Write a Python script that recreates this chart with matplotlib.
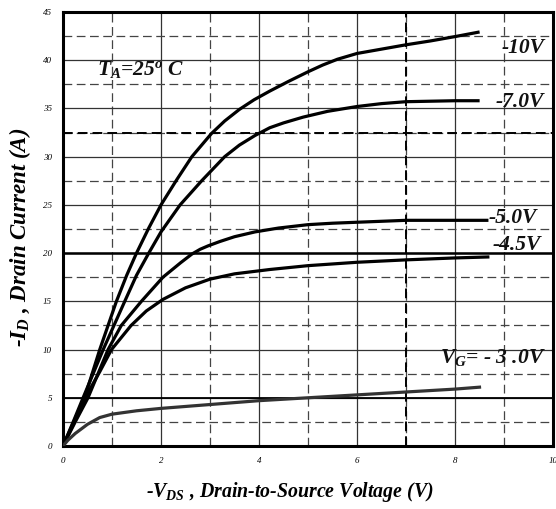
import matplotlib
matplotlib.use('Agg')
import matplotlib.pyplot as plt
from matplotlib.ticker import MultipleLocator

# 输出特性曲线数据 (-VDS, -ID)
x_10 = [0, 0.2, 0.44, 0.75, 1.09, 1.3, 1.5, 1.75, 2.0, 2.32, 2.63, 3.03, 3.3, 3.6, 3.9, 4.22,
        4.6, 5.0, 5.3, 5.6, 6.0, 6.5, 7.0, 7.5, 8.0, 8.47]
y_10 = [0, 2.3, 5, 10, 15, 17.7, 20, 22.6, 25, 27.6, 30, 32.4, 33.7, 34.9, 35.9, 36.8,
        37.8, 38.8, 39.5, 40.1, 40.7, 41.15, 41.6, 42.0, 42.45, 42.9]

x_7 = [0, 0.2, 0.41, 0.82, 1.26, 1.5, 1.75, 2.0, 2.39, 2.83, 3.3, 3.6, 3.92, 4.22, 4.5, 4.9,
       5.4, 6.0, 6.5, 7.0, 7.5, 8.0, 8.47]
y_7 = [0, 2.4, 5, 10, 15, 17.7, 20, 22.2, 25, 27.5, 30, 31.2, 32.2, 33.0, 33.5, 34.1,
       34.7, 35.2, 35.5, 35.7, 35.75, 35.8, 35.8]

x_5 = [0, 0.25, 0.51, 0.92, 1.19, 1.6, 2.04, 2.4, 2.63, 2.8, 2.96, 3.2, 3.5, 3.92, 4.4, 5.0,
       5.5, 6.0, 7.0, 8.0, 8.65]
y_5 = [0, 2.5, 5, 10, 12.5, 15, 17.5, 19.0, 19.9, 20.4, 20.75, 21.2, 21.7, 22.2, 22.6, 22.95,
       23.1, 23.2, 23.4, 23.4, 23.4]

x_45 = [0, 0.3, 0.55, 0.75, 0.99, 1.39, 1.7, 2.04, 2.5, 3.0, 3.5, 4.22, 5.0, 6.0, 7.0, 8.0, 8.67]
y_45 = [0, 3.2, 5.9, 7.7, 10, 12.5, 14.0, 15.2, 16.4, 17.3, 17.85, 18.3, 18.7, 19.05, 19.3, 19.5, 19.6]

x_3 = [0, 0.1, 0.25, 0.5, 0.75, 1.0, 1.5, 2.0, 3.0, 4.0, 5.0, 6.0, 7.0, 8.0, 8.5]
y_3 = [0, 0.6, 1.3, 2.25, 2.95, 3.3, 3.65, 3.9, 4.3, 4.7, 5.0, 5.3, 5.6, 5.9, 6.1]

curve_labels = ['-10V', '-7.0V', '-5.0V', '-4.5V', r'$V_G$= - 3 .0V']
label_pos = [(8.95, 41.3), (8.83, 35.7), (8.68, 23.6), (8.76, 20.8), (7.7, 9.2)]

plt.rcParams['font.family'] = ['Liberation Serif', 'DejaVu Serif']
plt.rcParams['mathtext.fontset'] = 'custom'
plt.rcParams['mathtext.it'] = 'Liberation Serif:italic:bold'
plt.rcParams['mathtext.rm'] = 'Liberation Serif:italic:bold'

fig = plt.figure(figsize=(5.56, 5.09), dpi=100)
ax = fig.add_axes([63/556, 63/509, 490/556, 434/509])

ax.set_xlim(0, 10)
ax.set_ylim(0, 45)
ax.xaxis.set_major_locator(MultipleLocator(2))
ax.xaxis.set_minor_locator(MultipleLocator(1))
ax.yaxis.set_major_locator(MultipleLocator(5))
ax.yaxis.set_minor_locator(MultipleLocator(2.5))

ax.grid(which='major', color='#333333', lw=0.9, ls='-')
ax.grid(which='minor', color='#444444', lw=0.9, ls=(0, (7, 3.6)))
ax.set_axisbelow(True)

# 加粗的几条参考线
ax.axhline(20, color='black', lw=1.8, zorder=1)
ax.axhline(5, color='black', lw=1.3, zorder=1)
ax.axhline(32.5, color='black', lw=1.4, ls=(0, (5, 2.6)), zorder=1)
ax.axvline(7, color='black', lw=1.4, ls=(0, (5, 2.6)), zorder=1)

ax.plot(x_10, y_10, color='black', lw=2.3, zorder=3, solid_joinstyle='round')
ax.plot(x_7, y_7, color='black', lw=2.3, zorder=3, solid_joinstyle='round')
ax.plot(x_5, y_5, color='black', lw=2.3, zorder=3, solid_joinstyle='round')
ax.plot(x_45, y_45, color='black', lw=2.3, zorder=3, solid_joinstyle='round')
ax.plot(x_3, y_3, color='#333333', lw=2.3, zorder=3, solid_joinstyle='round')

for lab, (lx, ly) in zip(curve_labels, label_pos):
    ax.text(lx, ly, lab, fontsize=15.5, fontweight='bold', style='italic',
            va='center', ha='left', color='#111111', zorder=4)

ax.text(0.69, 39, r'$T_A$=25$^o$ C', fontsize=15.5, fontweight='bold', style='italic',
        va='center', ha='left', color='#111111')

for s in ax.spines.values():
    s.set_linewidth(2.2)
    s.set_color('black')

ax.tick_params(which='both', length=0, pad=8)
for t in ax.get_xticklabels() + ax.get_yticklabels():
    t.set_fontsize(6.5)
    t.set_style('italic')

ax.set_xlabel(r'-$V_{DS}$ , Drain-to-Source Voltage (V)', fontsize=14.3,
              fontweight='bold', style='italic', va='center')
ax.set_ylabel(r'-$I_D$ , Drain Current (A)', fontsize=16.5,
              fontweight='bold', style='italic', va='center')
ax.xaxis.set_label_coords(0.463, -0.106)
ax.yaxis.set_label_coords(-0.088, 0.48)

fig.savefig('out.png', dpi=100)
